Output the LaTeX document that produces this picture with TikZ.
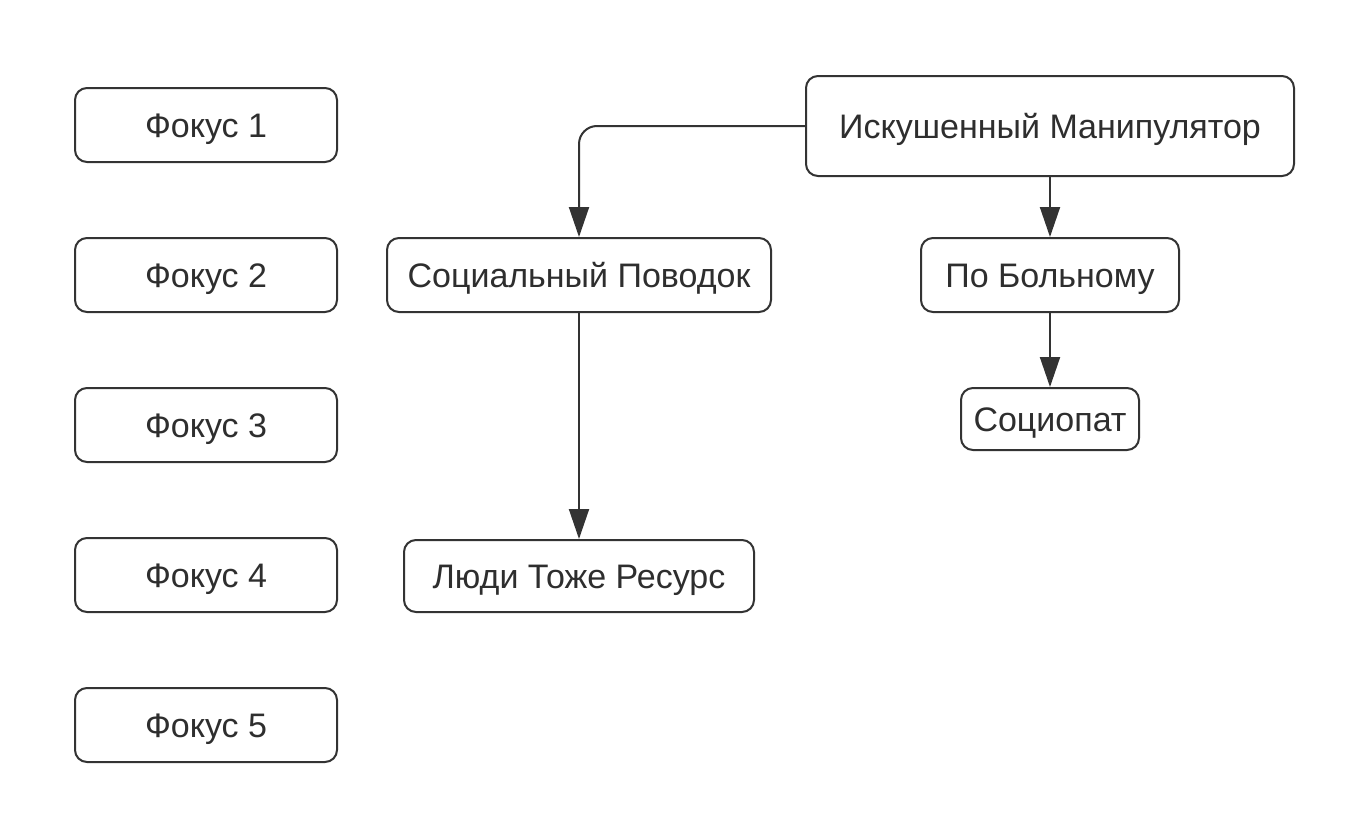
\documentclass[tikz,border=0pt]{standalone}
\usepackage{fontspec}
\setmainfont{Liberation Sans}
\usetikzlibrary{arrows.meta}
\definecolor{ink}{HTML}{333333}
\begin{document}
\begin{tikzpicture}[x=1pt,y=-1pt,
  box/.style={draw=ink, line width=2pt, rounded corners=12pt, fill=white, inner sep=0pt,
    font=\fontsize{34}{40}\selectfont, text=ink!90!black, text height=24.3pt, text depth=0pt},
  arr/.style={draw=ink, line width=2pt, -{Triangle[length=30pt,width=20pt]}}]
\path[fill=white] (0,0) rectangle (1369,838);
\useasboundingbox (0,0) rectangle (1369,838);
\foreach \i/\y in {1/125,2/275,3/425,4/575,5/725}{
  \node[box, minimum width=262pt, minimum height=74pt] (f\i) at (206,\y) {Фокус \i};
}
\node[box, minimum width=488pt, minimum height=100pt] (man) at (1050,126) {Искушенный Манипулятор};
\node[box, minimum width=384pt, minimum height=74pt] (soc) at (579,275) {Социальный Поводок};
\node[box, minimum width=258pt, minimum height=74pt] (bol) at (1050,275) {По Больному};
\node[box, minimum width=178pt, minimum height=62pt] (sp) at (1050,419) {Социопат};
\node[box, minimum width=350pt, minimum height=72pt] (lyu) at (579,576) {Люди Тоже Ресурс};
\draw[arr, rounded corners=18pt] (man.west) -| (soc.north);
\draw[arr] (man.south) -- (bol.north);
\draw[arr] (bol.south) -- (sp.north);
\draw[arr] (soc.south) -- (lyu.north);
\end{tikzpicture}
\end{document}
